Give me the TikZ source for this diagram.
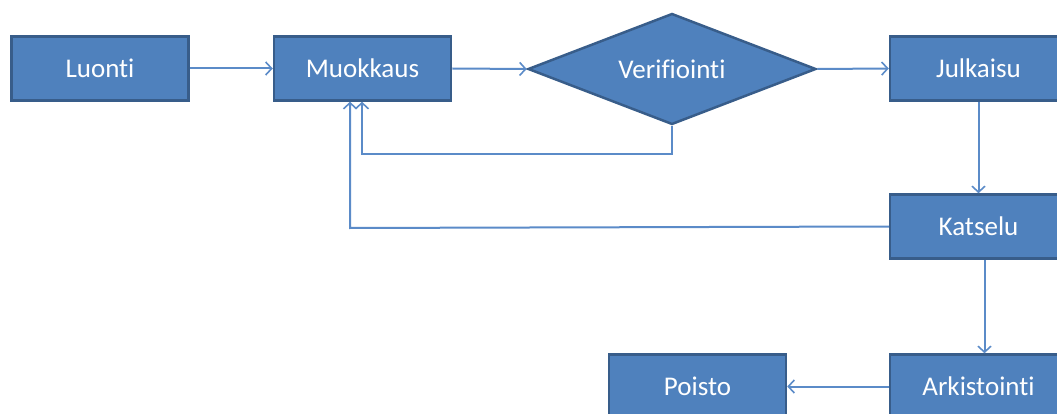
\documentclass[tikz,border=0pt]{standalone}
\usepackage{fontspec}
\setmainfont{Carlito}[Ligatures={NoCommon}]
\usetikzlibrary{arrows.meta,shapes.geometric}
\definecolor{boxfill}{HTML}{4F81BD}
\definecolor{boxline}{HTML}{385D8A}
\definecolor{conn}{HTML}{5B8BC8}
\tikzset{
  stepbox/.style={rectangle, fill=boxfill, draw=boxline, line width=2.5pt,
    minimum width=177pt, minimum height=64pt, inner sep=0pt,
    text=white, font=\fontsize{27}{30}\selectfont},
  decisionbox/.style={diamond, aspect=2.56, fill=boxfill, draw=boxline, line width=2.5pt,
    minimum width=288pt, minimum height=111pt, inner sep=0pt,
    text=white, font=\fontsize{27}{30}\selectfont},
  conn/.style={draw=conn, line width=2pt, -{Straight Barb[length=6pt,width=13pt,line width=1.6pt]}},
}
\begin{document}
\begin{tikzpicture}[x=1pt,y=-1pt]
\useasboundingbox (0,0) rectangle (1057,414);
\clip (0,0) rectangle (1057,414);
\node[stepbox] (luo) at (100,68.5) {Luonti};
\node[stepbox] (muo) at (362.5,68.5) {Muokkaus};
\node[decisionbox] (ver) at (672,69) {Verifiointi};
\node[stepbox] (jul) at (978.5,68.5) {Julkaisu};
\node[stepbox] (kat) at (978.5,226.5) {Katselu};
\node[stepbox] (ark) at (978.5,386.5) {Arkistointi};
\node[stepbox] (poi) at (697.5,386.5) {Poisto};
\coordinate (c1) at (362,154);
\coordinate (c2) at (350,228);
\draw[conn] (luo.east) -- (muo.west);
\draw[conn] (muo.east) -- (ver.west);
\draw[conn] (ver.east) -- (jul.west);
\draw[conn] (ver.south) |- (c1) -- (c1 |- muo.south);
\draw[conn] (kat.west) -- (c2) -- (c2 |- muo.south);
\draw[conn] (jul.south) -- (jul.south |- kat.north);
\draw[conn] ([xshift=6pt]kat.south) -- ([xshift=6pt]ark.north);
\draw[conn] (ark.west) -- (poi.east);
\end{tikzpicture}
\end{document}
